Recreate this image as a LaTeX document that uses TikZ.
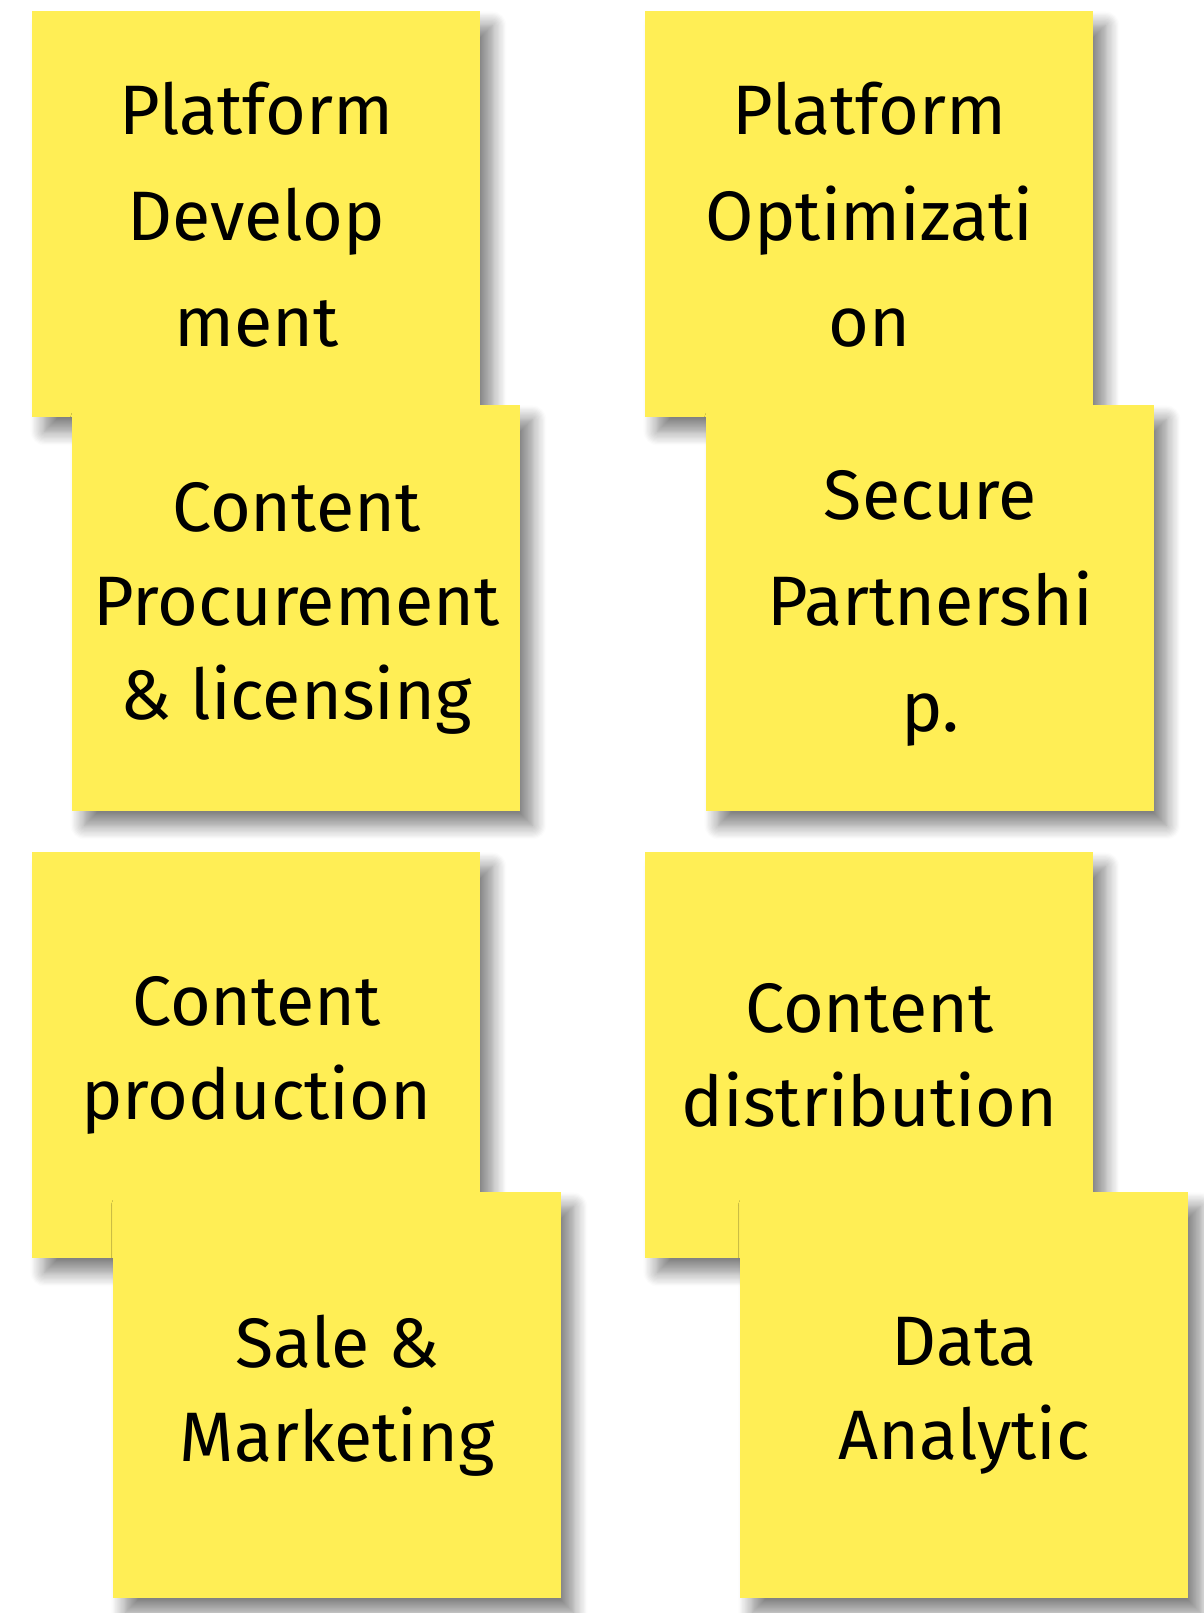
\documentclass[tikz,border=0pt]{standalone}
\usepackage{fontspec}
\setmainfont{Fira Sans}
\usetikzlibrary{positioning, shadows, shadows.blur}
\definecolor{stickyyellow}{RGB}{255,238,85}

\begin{document}
\begin{tikzpicture}[x=0.5pt, y=-0.5pt]
\tikzset{
    every node/.style={align=center},
    sticky/.style={fill=stickyyellow, anchor=north west, inner sep=0pt,
        minimum width=224pt, minimum height=203pt,
        font=\fontsize{35}{47}\selectfont,
        blur shadow={shadow xshift=6pt, shadow yshift=-7pt,
            shadow blur radius=7pt, shadow blur steps=12,
            shadow opacity=50}},
    wide lines/.style={font=\fontsize{35}{53}\selectfont}
}
\useasboundingbox (0,0) rectangle (1204,1613);

% top row
\node[sticky, wide lines] (platdev) at (32,11) {Platform\\Develop\\ment};
\node[sticky, wide lines] (platopt) at (645,11) {Platform\\Optimizati\\on};
\node[sticky] (procure) at (72,405) {Content\\Procurement\\\& licensing};
\node[sticky, wide lines] (partner) at (706,405) {Secure\\Partnershi\\p.};

% bottom row
\node[sticky] (produce) at (32,852) {Content\\production};
\node[sticky] (distrib) at (645,852) {Content\\distribution};
\node[sticky] (market) at (113,1192) {Sale \&\\Marketing};
\node[sticky] (analytic) at (740,1192) {Data\\Analytic};
\end{tikzpicture}
\end{document}
